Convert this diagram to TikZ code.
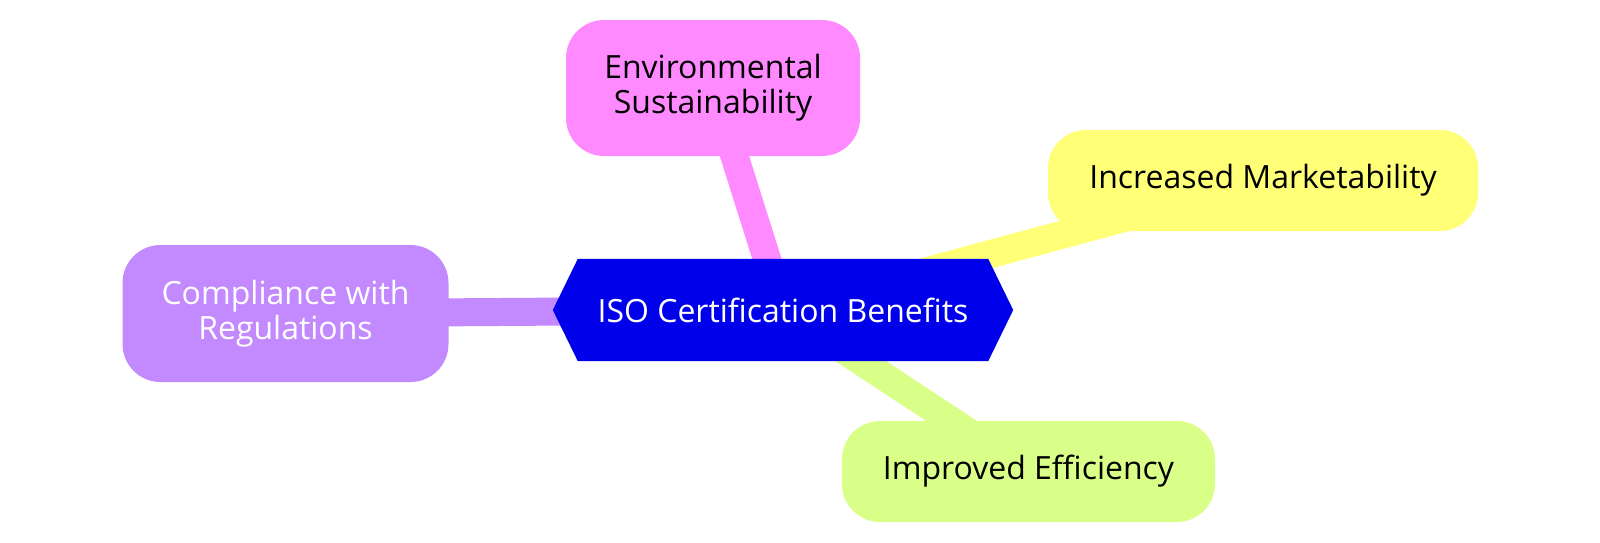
\documentclass[tikz,border=0pt]{standalone}
\usepackage{fontspec}
\setmainfont{Open Sans}
\usetikzlibrary{positioning}
\pgfdeclarelayer{edges}
\pgfdeclarelayer{hex}
\pgfsetlayers{edges,hex,main}
\definecolor{hexblue}{HTML}{0000EB}
\definecolor{cpink}{HTML}{FF8AFF}
\definecolor{cyellow}{HTML}{FFFF78}
\definecolor{cgreen}{HTML}{DAFF88}
\definecolor{cpurple}{HTML}{C389FF}
\tikzset{
  leaf/.style={rounded corners=38pt, align=center, inner sep=0pt,
    font=\fontsize{32}{35}\selectfont},
  rootnode/.style={rectangle, inner sep=0pt, align=center, text=white,
    minimum width=460pt, minimum height=102pt, font=\fontsize{32}{35}\selectfont},
  edge/.style={line width=28pt},
}
\begin{document}
\begin{tikzpicture}[x=1pt,y=-1pt]
\useasboundingbox (0,0) rectangle (1600,542);
\node[rootnode] (root) at (783,310) {ISO Certification Benefits};
\node[leaf, fill=cpink, minimum width=294pt, minimum height=136pt] (env) at (713,88) {Environmental\\Sustainability};
\node[leaf, fill=cyellow, minimum width=430pt, minimum height=101pt] (mkt) at (1263,180.5) {Increased Marketability};
\node[leaf, fill=cpurple, text=white, minimum width=326pt, minimum height=137pt] (comp) at (285.5,313.5) {Compliance with\\Regulations};
\node[leaf, fill=cgreen, minimum width=373pt, minimum height=101pt] (eff) at (1028.5,471.5) {Improved Efficiency};
\begin{pgfonlayer}{hex}
\fill[hexblue] (root.west) -- ([xshift=25pt]root.north west) -- ([xshift=-25pt]root.north east)
  -- (root.east) -- ([xshift=-25pt]root.south east) -- ([xshift=25pt]root.south west) -- cycle;
\end{pgfonlayer}
\begin{pgfonlayer}{edges}
\draw[edge, cpink] (root.center) -- (env.center);
\draw[edge, cyellow] (root.center) -- (mkt.center);
\draw[edge, cpurple] (root.center) -- (comp.center);
\draw[edge, cgreen] (root.center) -- (eff.center);
\end{pgfonlayer}
\end{tikzpicture}
\end{document}
